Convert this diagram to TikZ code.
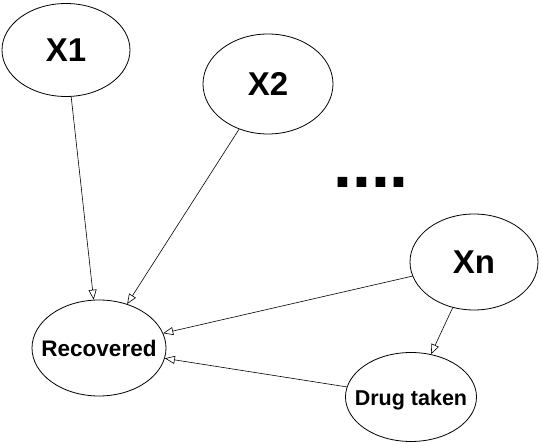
\documentclass[tikz,border=0pt]{standalone}
\usepackage{fontspec}
\setmainfont{Liberation Sans}
\usetikzlibrary{shapes.geometric,arrows.meta}
\newcommand{\ztext}[1]{\makebox[0pt]{#1}}
\begin{document}
\begin{tikzpicture}[x=1pt,y=-1pt,
  var/.style={ellipse,draw,line width=0.8pt,inner sep=0pt,font=\bfseries},
  big/.style={var,font=\fontsize{33}{36}\selectfont\bfseries},
  small/.style={var,font=\fontsize{22.5}{24}\selectfont\bfseries},
  edge/.style={draw,line width=0.6pt,-{Triangle[open,length=10pt,width=8pt]}}]
\useasboundingbox (0,0) rectangle (542,446);
\node[big,minimum width=128pt,minimum height=93pt] (x1) at (66,50) {\ztext{X1}};
\node[big,minimum width=130pt,minimum height=100pt] (x2) at (268,84) {\ztext{X2}};
\node[big,minimum width=128pt,minimum height=96pt] (xn) at (474,262) {\ztext{Xn}};
\node[small,minimum width=134pt,minimum height=96pt] (rec) at (99,348) {\ztext{Recovered}};
\node[small,minimum width=131pt,minimum height=89pt,
  label={[font=\fontsize{21.5}{24}\selectfont\bfseries,inner sep=0pt,yshift=-3pt]center:Drug taken}] (drug) at (411,397) {};
\node[font=\fontsize{68}{70}\selectfont\bfseries,inner sep=0pt,anchor=base] (dots) at (371,188) {....};
\draw[edge] (x1) -- (rec);
\draw[edge] (x2) -- (rec);
\draw[edge] (xn) -- (rec);
\draw[edge] (drug) -- (rec);
\draw[edge] (xn) -- (drug);
\end{tikzpicture}
\end{document}
